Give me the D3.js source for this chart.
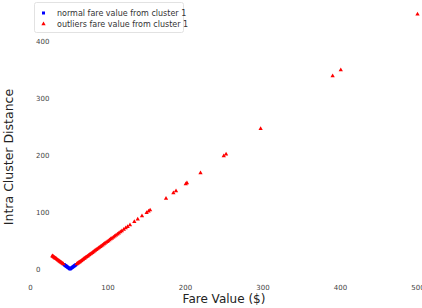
<!DOCTYPE html>
<html><head><meta charset="utf-8">
<script src="https://cdn.jsdelivr.net/npm/d3@7"></script>
<style>body{margin:0;background:#fff}svg{display:block}text{font-family:"DejaVu Sans",sans-serif}</style>
</head><body><svg id="c" width="422" height="308"></svg>
<script>
const normalFare = [43.9, 44.6, 45.5, 46.3, 46.9, 47.6, 48.5, 49.3, 50.2, 51.0, 51.7, 52.4, 53.3, 54.2, 55.0, 55.9, 56.8, 57.6, 58.5, 59.4];
const normalDist = [7.8, 7.1, 6.2, 5.4, 4.8, 4.1, 3.2, 2.4, 1.5, 0.7, 0.0, 0.7, 1.6, 2.5, 3.3, 4.2, 5.1, 5.9, 6.8, 7.7];
const outlierFare = [28.8, 29.4, 30.0, 30.7, 31.4, 32.2, 33.0, 33.9, 34.8, 35.7, 36.6, 37.6, 38.5, 39.4, 40.3, 41.2, 42.2, 43.0,
  60.3, 61.2, 62.1, 63.0, 64.1, 65.0, 66.2, 67.3, 68.4, 69.5, 70.6, 71.8, 73.0, 74.2, 75.4, 76.6, 77.8, 79.0, 80.3, 81.5,
  82.8, 84.0, 85.3, 86.6, 88.0, 89.3, 90.7, 92.0, 93.5, 95.0, 96.4, 98.0, 99.5, 101.0, 102.6, 104.2, 105.8, 107.5, 109.2,
  111.0, 112.8, 114.6, 116.5, 118.5, 121.0, 123.5, 126.0, 129.0, 134.6, 139.0, 144.5, 150.5, 153.0, 155.0,
  175.5, 185.0, 188.4, 201.0, 202.5, 220.0, 250.0, 253.0, 297.6, 390.5, 401.0, 500.0];
const outlierDist = [22.9, 22.3, 21.7, 21.0, 20.3, 19.5, 18.7, 17.8, 16.9, 16.0, 15.1, 14.1, 13.2, 12.3, 11.4, 10.5, 9.5, 8.7,
  8.6, 9.5, 10.4, 11.3, 12.4, 13.3, 14.5, 15.6, 16.7, 17.8, 18.9, 20.1, 21.3, 22.5, 23.7, 24.9, 26.1, 27.3, 28.6, 29.8,
  31.1, 32.3, 33.6, 34.9, 36.3, 37.6, 39.0, 40.3, 41.8, 43.3, 44.7, 46.3, 47.8, 49.3, 50.9, 52.5, 54.1, 55.8, 57.5,
  59.3, 61.1, 62.9, 64.8, 66.8, 69.3, 71.8, 74.3, 77.3, 82.9, 87.3, 92.8, 98.8, 101.3, 103.3,
  123.8, 133.3, 136.7, 149.3, 150.8, 168.3, 198.3, 201.3, 245.9, 338.8, 349.3, 447.0];
const xTicks = [0, 100, 200, 300, 400, 500];
const yTicks = [0, 100, 200, 300, 400];
const legendLabels = ["normal fare value from cluster 1", "outliers fare value from cluster 1"];

const svg = d3.select("#c");
const x = d3.scaleLinear().domain([0, 500]).range([30, 417.5]);
const y = d3.scaleLinear().domain([0, 400]).range([269, 41]);

const tickColor = "#444";
const xa = svg.append("g").attr("transform", "translate(0,285)")
  .call(d3.axisBottom(x).tickValues(xTicks).tickSize(0).tickPadding(0));
xa.select(".domain").remove();
xa.selectAll("text").attr("fill", tickColor).style("font-size", "7px");

const ya = svg.append("g").attr("transform", "translate(36,0)")
  .call(d3.axisLeft(y).tickValues(yTicks).tickSize(0).tickPadding(0));
ya.select(".domain").remove();
ya.selectAll("text").attr("fill", tickColor).style("font-size", "7px")
  .attr("text-anchor", "start").attr("x", 0);

svg.append("g").selectAll("rect").data(normalFare).join("rect")
  .attr("x", (d) => x(d) - 1.5).attr("y", (d, i) => y(normalDist[i]) - 1.5)
  .attr("width", 3).attr("height", 3).attr("fill", "#0000ff");

const tri = d3.symbol().type(d3.symbolTriangle).size(8);
svg.append("g").selectAll("path").data(outlierFare).join("path")
  .attr("d", tri)
  .attr("transform", (d, i) => `translate(${x(d)},${y(outlierDist[i])})`)
  .attr("fill", "#ff0000");

svg.append("text").attr("x", 224).attr("y", 303).attr("text-anchor", "middle")
  .style("font-size", "12px").attr("fill", "#222").text("Fare Value ($)");
svg.append("text").attr("transform", "translate(13,157) rotate(-90)").attr("text-anchor", "middle")
  .style("font-size", "12.5px").attr("fill", "#222").text("Intra Cluster Distance");

const lg = svg.append("g");
lg.append("rect").attr("x", 34.5).attr("y", 2.5).attr("width", 149).attr("height", 30)
  .attr("fill", "#fff").attr("stroke", "#e2e2e2").attr("rx", 2);
lg.append("rect").attr("x", 42).attr("y", 11.5).attr("width", 3).attr("height", 3).attr("fill", "#0000ff");
lg.append("path").attr("d", tri).attr("transform", "translate(43.5,24)").attr("fill", "#ff0000");
lg.selectAll("text").data(legendLabels).join("text")
  .attr("x", 57).attr("y", (d, i) => 16 + i * 11)
  .style("font-size", "8px").attr("fill", "#333").text((d) => d);
</script></body></html>
